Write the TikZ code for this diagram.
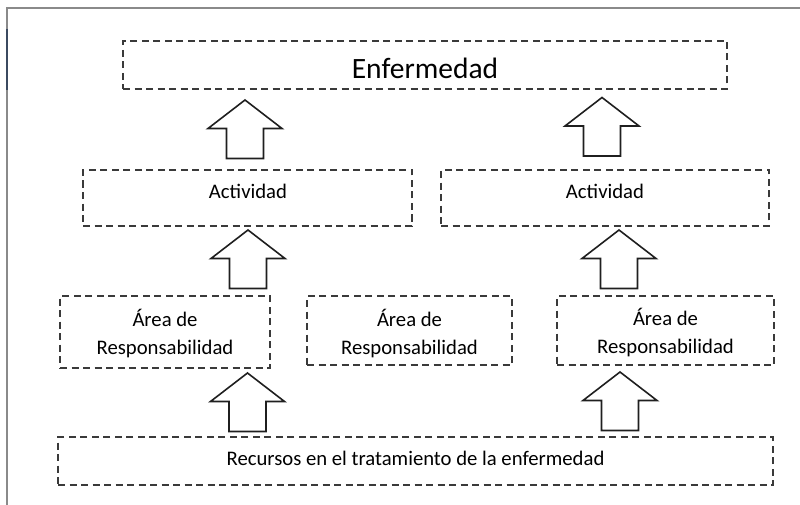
\documentclass[tikz,border=0pt]{standalone}
\usepackage{fontspec}
\setmainfont{Carlito}
\usetikzlibrary{calc}
\definecolor{dashgray}{HTML}{3A3A3A}
\definecolor{framegray}{HTML}{8A8A8A}
\definecolor{frameblue}{HTML}{3B4A60}
\begin{document}
\begin{tikzpicture}[x=1pt,y=-1pt,
  dbox/.style={draw=dashgray, line width=1.6pt, dash pattern=on 7pt off 4.5pt, inner sep=0pt, rectangle},
  smalltxt/.style={font=\fontsize{20.7}{28}\selectfont, text=black, inner sep=0pt, anchor=base, align=center},
  bigtxt/.style={font=\fontsize{29.5}{34}\selectfont, text=black, inner sep=0pt, anchor=base},
  blockarrow/.style={draw=black!88, line width=1.6pt, fill=white, line join=miter},
  uparrow/.pic={\draw[blockarrow] (0,0) -- (37,28.5) -- (18.5,28.5) -- (18.5,58.5) -- (-18.5,58.5) -- (-18.5,28.5) -- (-37,28.5) -- cycle;}
]
\useasboundingbox (0,0) rectangle (800,505);
% frame
\draw[framegray, line width=1.5pt] (800,8) -- (7,8) -- (7,505);
\draw[frameblue, line width=1.8pt] (7,29) -- (7,90);

% boxes
\node[dbox, minimum width=604pt, minimum height=48pt] (enf) at (425,65) {};
\node[dbox, minimum width=329pt, minimum height=56pt] (act1) at (247.5,198) {};
\node[dbox, minimum width=328pt, minimum height=56pt] (act2) at (605,198) {};
\node[dbox, minimum width=210pt, minimum height=72pt] (area1) at (165,332) {};
\node[dbox, minimum width=205pt, minimum height=69pt] (area2) at (409.5,330.5) {};
\node[dbox, minimum width=217pt, minimum height=69pt] (area3) at (665.5,330.5) {};
\node[dbox, minimum width=715pt, minimum height=48pt] (rec) at (415.5,461) {};

% texts
\node[bigtxt] (tenf) at (425,79) {Enfermedad};
\node[smalltxt] (tact1) at (248,198) {Actividad};
\node[smalltxt] (tact2) at (605,198) {Actividad};
\node[smalltxt] (tarea1) at (165,354) {Área de\\Responsabilidad};
\node[smalltxt] (tarea2) at (409.5,354) {Área de\\Responsabilidad};
\node[smalltxt] (tarea3) at (665.5,353) {Área de\\Responsabilidad};
\node[smalltxt] (trec) at (415.5,465) {Recursos en el tratamiento de la enfermedad};

% block arrows
\pic at (245,100) {uparrow};
\pic at (602,97.5) {uparrow};
\pic at (248,230) {uparrow};
\pic at (619,230) {uparrow};
\pic at (247.5,373) {uparrow};
\pic at (620,372) {uparrow};
\end{tikzpicture}
\end{document}
